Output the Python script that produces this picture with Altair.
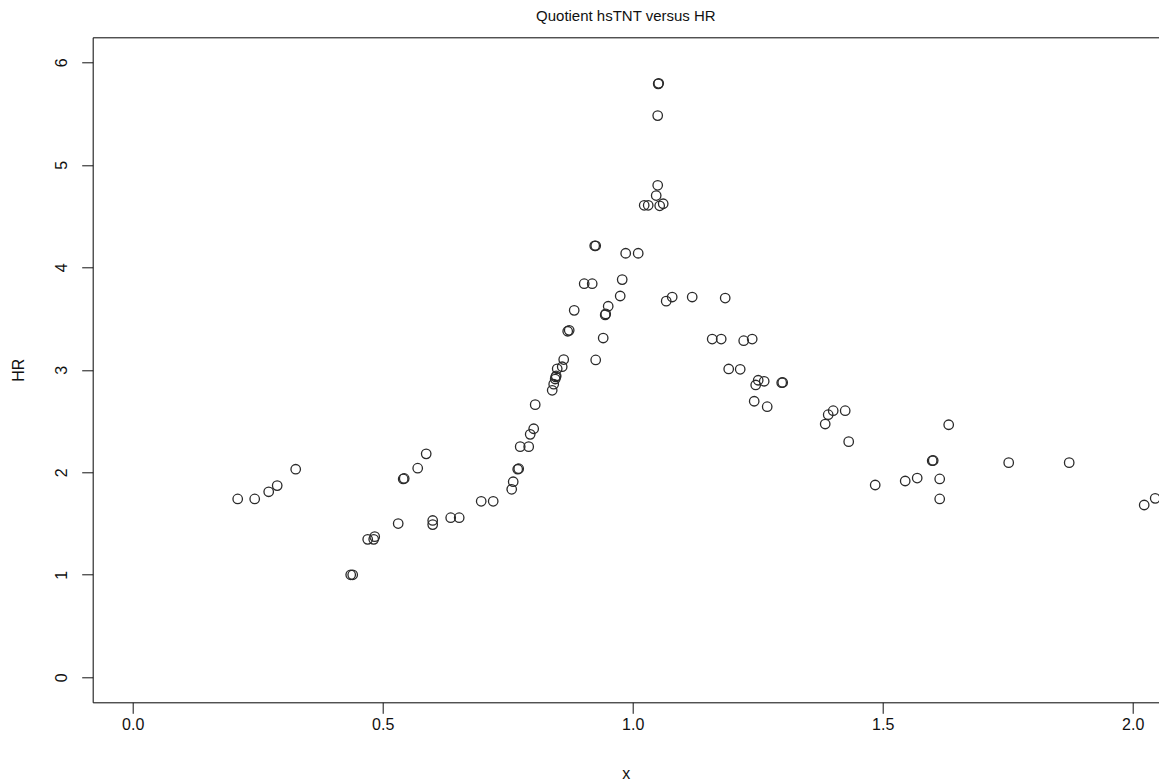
import altair as alt
import pandas as pd

# Quotient hsTNT (x) versus HR
x_vals = [0.210, 0.244, 0.272, 0.289, 0.326, 0.436, 0.440, 0.470, 0.482, 0.484,
          0.531, 0.541, 0.543, 0.570, 0.587, 0.600, 0.600, 0.636, 0.653, 0.697,
          0.721, 0.758, 0.761, 0.770, 0.772, 0.775, 0.792, 0.795, 0.802, 0.805,
          0.839, 0.842, 0.845, 0.846, 0.847, 0.849, 0.859, 0.862, 0.870, 0.873,
          0.883, 0.903, 0.919, 0.926, 0.924, 0.926, 0.941, 0.945, 0.946, 0.951,
          0.975, 0.979, 0.986, 1.011, 1.023, 1.031, 1.047, 1.050, 1.054, 1.061,
          1.050, 1.051, 1.052, 1.067, 1.079, 1.119, 1.185, 1.159, 1.177, 1.192,
          1.215, 1.222, 1.239, 1.246, 1.251, 1.263, 1.298, 1.300, 1.243, 1.269,
          1.385, 1.391, 1.401, 1.425, 1.432, 1.632, 1.599, 1.601, 1.752, 1.873,
          1.485, 1.545, 1.569, 1.614, 1.614, 2.023, 2.045]
hr_vals = [1.74, 1.74, 1.81, 1.87, 2.03, 1.00, 1.00, 1.346, 1.346, 1.372,
           1.50, 1.935, 1.94, 2.04, 2.18, 1.53, 1.49, 1.557, 1.557, 1.717,
           1.717, 1.834, 1.908, 2.03, 2.035, 2.25, 2.25, 2.37, 2.425, 2.66,
           2.80, 2.86, 2.91, 2.93, 2.94, 3.01, 3.03, 3.10, 3.376, 3.385,
           3.58, 3.84, 3.84, 3.096, 4.21, 4.21, 3.31, 3.535, 3.545, 3.62,
           3.72, 3.88, 4.137, 4.137, 4.605, 4.605, 4.70, 4.80, 4.60, 4.62,
           5.48, 5.79, 5.795, 3.67, 3.71, 3.71, 3.70, 3.30, 3.30, 3.008,
           3.005, 3.284, 3.30, 2.852, 2.898, 2.888, 2.874, 2.876, 2.693, 2.64,
           2.471, 2.562, 2.601, 2.601, 2.299, 2.464, 2.113, 2.115, 2.094, 2.094,
           1.876, 1.915, 1.944, 1.935, 1.74, 1.681, 1.746]

x_ticks = [0.0, 0.5, 1.0, 1.5, 2.0]
y_ticks = [0, 1, 2, 3, 4, 5, 6]

df = pd.DataFrame({"x": x_vals, "HR": hr_vals})

FONT = "Liberation Sans"
INK = "#111111"

xscale = alt.Scale(domain=[-0.08, 2.0526], nice=False, zero=False)
yscale = alt.Scale(domain=[-0.244, 6.244], nice=False, zero=False)

points = alt.Chart(df).mark_point(
    shape="circle", filled=False, size=90, stroke="#2a2a2a", strokeWidth=1.3, opacity=1
).encode(
    x=alt.X("x:Q", scale=xscale, title="x",
            axis=alt.Axis(values=x_ticks, format=".1f", grid=False,
                          domainColor=INK, tickColor=INK, tickSize=11, tickWidth=1,
                          labelPadding=3, labelFontSize=16, labelFont=FONT,
                          labelColor=INK, labelFlush=False,
                          titleFont=FONT, titleFontSize=16, titleFontWeight="normal",
                          titleColor=INK, titleY=71, titleBaseline="middle")),
    y=alt.Y("HR:Q", scale=yscale, title="HR",
            axis=alt.Axis(values=y_ticks, format="d", grid=False,
                          domainColor=INK, tickColor=INK, tickSize=11, tickWidth=1,
                          labelPadding=12, labelFontSize=16, labelFont=FONT,
                          labelColor=INK, labelFlush=False,
                          labelAngle=270, labelAlign="center", labelBaseline="bottom",
                          titleFont=FONT, titleFontSize=16, titleFontWeight="normal",
                          titleColor=INK, titleX=-74, titleBaseline="middle")),
)

frame = alt.Chart(df).mark_point(opacity=0).encode(
    x=alt.X("x:Q", scale=xscale, title="",
            axis=alt.Axis(orient="top", labels=False, ticks=False, grid=False,
                          domainColor=INK, domainWidth=1)),
    y=alt.Y("HR:Q", scale=yscale, axis=None),
)

chart = alt.layer(points, frame).resolve_axis(
    x="independent", y="independent"
).properties(
    width=1066.3,
    height=665,
    title=alt.TitleParams(text="Quotient hsTNT versus HR", font=FONT, fontSize=15,
                          fontWeight="normal", color=INK, anchor="middle",
                          baseline="middle", offset=6),
    autosize=alt.AutoSizeParams(type="none"),
    padding={"left": 84.7, "top": 29.3, "right": 0, "bottom": 79},
).configure_view(stroke=None).configure(background="white")

chart.save("out.html", embed_options={"renderer": "svg", "actions": False})
